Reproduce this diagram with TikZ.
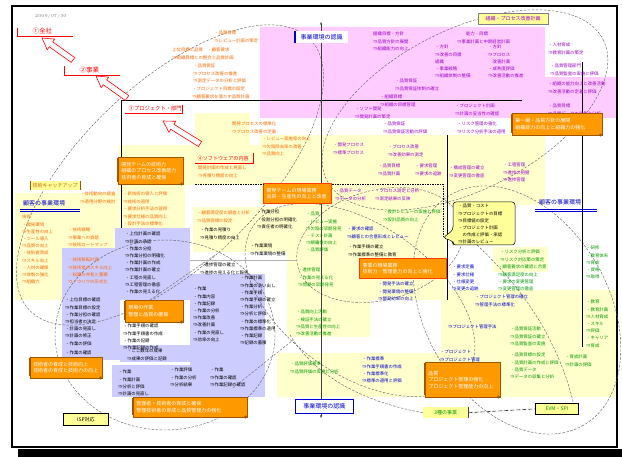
\documentclass[tikz,border=0pt]{standalone}
\usepackage{fontspec}
\newfontfamily\jp{Noto Sans CJK JP}
\usetikzlibrary{calc,arrows.meta}
\definecolor{pinkbg}{RGB}{255,204,255}
\definecolor{yelbg}{RGB}{255,255,204}
\definecolor{lavbg}{RGB}{204,204,255}
\definecolor{orgF}{RGB}{255,153,0}
\definecolor{orgD}{RGB}{160,85,0}
\definecolor{tOr}{RGB}{255,102,0}
\definecolor{tOd}{RGB}{204,102,0}
\definecolor{tPu}{RGB}{153,0,204}
\definecolor{tGr}{RGB}{0,153,0}
\definecolor{tBl}{RGB}{0,0,204}
\definecolor{labY}{RGB}{255,255,153}
\definecolor{dashG}{RGB}{100,100,100}
\definecolor{redB}{RGB}{255,60,0}
\tikzset{
  tb/.style={anchor=north west, inner sep=0pt, align=left, font=\jp\fontsize{4.4}{7.2}\selectfont},
  obox/.style={anchor=north west, fill=orgF, draw=orgD, line width=0.5pt, text=white, align=left, inner xsep=3pt, inner ysep=1pt, font=\jp\fontsize{5}{6.6}\selectfont},
  rbox/.style={obox, draw=redB, line width=1.4pt},
  dsh/.style={draw=dashG, dash pattern=on 2.5pt off 1.5pt, line width=0.45pt},
  redlab/.style={anchor=south west, inner sep=0.5pt, text=red, font=\jp\fontsize{6.5}{7}\selectfont},
  bluelab/.style={anchor=north west, inner sep=1pt, text=tBl, font=\jp\fontsize{6}{7}\selectfont},
  ylab/.style={anchor=north west, fill=labY, inner sep=1pt, font=\jp\fontsize{5}{6}\selectfont},
  harrow/.style={draw=red, fill=white, line width=0.6pt, line join=miter},
  frame/.style={draw=black, line width=0.7pt}
}
\newcommand\scrollends[1]{%
  \fill[orgD] ([xshift=-1.3pt,yshift=-1.5pt]#1.north west) rectangle ([xshift=1.3pt,yshift=2pt]#1.south west);
  \fill[orgD] ([xshift=-2pt,yshift=0.5pt]#1.south east) circle (1.7pt);}
\begin{document}
\begin{tikzpicture}[x=1pt,y=-1pt]
\fill[white] (0,0) rectangle (622,457);
\useasboundingbox (0,0) rectangle (622,457);
% ---------- backgrounds
\fill[pinkbg] (260,27) -- (545,27) -- (545,77) -- (618,77) -- (618,118) -- (260,118) -- cycle;
\fill[yelbg] (195,113) rectangle (250,145);
\fill[yelbg] (260,135) rectangle (545,205);
\fill[yelbg] (118,145) rectangle (185,228);
\fill[yelbg] (185,145) rectangle (262,185);
\fill[yelbg] (193,207) rectangle (290,252);
\fill[yelbg] (15,193) rectangle (118,300);
\fill[yelbg] (287,205) rectangle (447,300);
\fill[yelbg] (287,300) rectangle (370,337);
\fill[yelbg] (441,290) rectangle (618,397);
\fill[yelbg] (277,353) rectangle (441,397);
\fill[yelbg] (493,247) rectangle (548,272);
\fill[lavbg] (62,248) rectangle (120,360);
\fill[lavbg] (115,228) rectangle (190,300);
\fill[lavbg] (190,274) rectangle (265,397);
\fill[lavbg] (112,365) rectangle (265,397);
\fill[lavbg] (120,345) rectangle (190,362);
% ---------- outer frame
\draw[black, line width=1.3pt] (12,6) rectangle (617,447);
\fill[black] (18,449) rectangle (622,457);
% ---------- dashed ellipses and curves
\draw[dsh, rotate around={44:(170,175)}] (170,175) ellipse [x radius=195, y radius=90];
\draw[dsh, rotate around={27:(465,110)}] (465,110) ellipse [x radius=155, y radius=80];
\draw[dsh, rotate around={-60:(517,310)}] (517,310) ellipse [x radius=133, y radius=92];
\draw[dsh] (165,335) ellipse [x radius=110, y radius=95];
\draw[dsh, rotate around={-35:(360,300)}] (360,300) ellipse [x radius=130, y radius=75];
\draw[dsh, rotate around={15:(380,245)}] (380,245) ellipse [x radius=85, y radius=55];
\draw[dsh] (477,245) .. controls (520,285) and (560,340) .. (575,410);
\draw[dsh] (150,300) -- (215,255);
\draw[dsh] (233,388) -- (293,340);
% ---------- structural lines
\draw[frame] (121,228) -- (121,100) -- (522,100);
\draw[frame] (447,135) -- (447,300);
\draw[black, line width=1pt] (582,62) -- (582,347);
\draw[gray!60, line width=0.6pt] (190,260) -- (297,260);
\draw[gray!50!black, line width=0.8pt, {Stealth[length=3pt]}-{Stealth[length=3pt]}] (321,22) -- (321,418);
% ---------- date
\node[anchor=north west, inner sep=0pt, text=gray, font=\fontsize{4.6}{5}\selectfont] (date) at (35,14) {2009/07/30};
% ---------- red level labels
\node[redlab] (r1) at (32,35) {①全社};
\draw[red, line width=0.9pt] (17,28) -- (17,36) -- (73,36);
\node[redlab] (r2) at (79,74) {②事業};
\draw[red, line width=0.9pt] (64,66) -- (64,75) -- (120,75);
\node[redlab, font=\jp\fontsize{5.3}{6}\selectfont] (r3) at (128,112) {③プロジェクト・部門};
\draw[red, line width=0.9pt] (125,113) -- (182,113) -- (182,105);
\node[redlab, font=\jp\fontsize{5.1}{6}\selectfont] (r4) at (197,162) {④ソフトウェアの内容};
\draw[red, line width=0.9pt] (195,163) -- (253,163) -- (253,153);
% ---------- hollow arrows
\draw[harrow] (74.7,57.6) -- (52.7,41.9) -- (54.8,39.1) -- (42,38) -- (47.2,49.7) -- (49.3,46.8) -- (71.3,62.4) -- cycle;
\draw[harrow] (128.7,95.6) -- (106.7,79.9) -- (108.8,77.1) -- (96,76) -- (101.2,87.7) -- (103.3,84.8) -- (125.3,100.4) -- cycle;
\draw[harrow] (201.6,141.5) -- (173.9,124.3) -- (175.7,121.3) -- (163,121) -- (168.9,132.3) -- (170.7,129.3) -- (198.4,146.5) -- cycle;
% ---------- orange (top) texts
\node[tb, text=tOr] (o1) at (214,31) {・品質目標\\⇒レビュー計画の策定};
\node[tb, text=tOr] (o2) at (172,48) {上位目標と品質　・顧客要求\\⇒組織目標との整合と品質計画};
\node[tb, text=tOr] (o3) at (193,64) {・品質保証\\⇒プロセス改善の推進\\⇒測定データの分析と評価};
\node[tb, text=tOr] (o4) at (192,87) {・プロジェクト目標の設定\\⇒顧客要求を満たす品質計画};
\node[tb, text=tOr] (o5) at (232,122) {開発プロセスの標準化\\⇒プロセス改善の定着};
\node[tb, text=tOr] (o6) at (262,137) {・レビュー実施率の向上\\⇒欠陥除去率の改善\\⇒品質向上};
\node[tb, text=tOr] (o7) at (198,166) {開発計画の作成と見直し\\⇒見積り精度の向上};
\node[tb, text=tOr] (o9) at (80,192) {・技術動向の調査\\⇒適用分野の検討};
\node[tb, text=tOr] (o9b) at (123,192) {・新技術の導入と評価\\⇒技術の適用};
\node[tb, text=tOr] (o10) at (123,207) {・要求分析手法の習得\\⇒要求仕様の品質向上\\・設計手法の標準化};
\node[tb, text=tOr] (o11) at (22,215) {技術\\・開発環境\\⇒生産性の向上\\・ツール導入\\⇒品質の向上\\・技術者育成\\⇒スキル向上\\・人材の確保\\⇒体制の強化\\⇒組織力};
\node[tb, text=tOr] (o12) at (68,228) {・技術戦略\\⇒事業への貢献\\⇒技術ロードマップ};
\node[tb, text=tOr] (o13) at (68,258) {・技術移転計画\\⇒技術者のスキル向上\\・知識の共有と蓄積\\⇒ノウハウの形式化};
\node[tb, text=tOr] (o14) at (197,211) {・顧客満足度の調査と分析\\⇒品質目標の設定};
% ---------- purple texts (pink area)
\node[tb, text=tPu] (p1) at (373,32) {組織目標・方針\\⇒品質方針の展開\\⇒組織能力の向上};
\node[tb, text=tPu] (p2) at (457,32) {　　能力・目標\\⇒事業計画と中期経営計画};
\node[tb, text=tPu] (p3) at (435,45) {・方針\\⇒改善の目標\\組織\\・事業戦略\\⇒組織体制の整備};
\node[tb, text=tPu] (p4) at (488,45) {・方針\\⇒プロセス\\　改善計画\\・成熟度評価\\⇒改善活動の推進};
\node[tb, text=tPu] (p5) at (395,79) {・品質保証\\⇒品質保証体制の確立};
\node[tb, text=tPu] (p6) at (380,95) {・組織目標\\⇒組織の目標管理};
\node[tb, text=tPu] (p7) at (355,107) {・ソフト開発\\⇒開発計画の策定};
\node[tb, text=tPu] (p8) at (455,104) {・プロジェクト計画\\⇒計画の妥当性の確認};
\node[tb, text=tPu] (p9) at (548,43) {・人材育成\\⇒教育計画の策定};
\node[tb, text=tPu] (p10) at (550,64) {・品質管理部門\\⇒品質監査の実施と評価};
\node[tb, text=tPu] (p11) at (548,82) {・組織の能力向上と改善活動\\⇒改善活動の定着と評価};
\node[tb, text=tPu] (p12) at (548,104) {・品質目標\\⇒品質データの収集と分析};
\node[tb, text=tPu] (p13) at (383,122) {・品質保証\\⇒品質保証活動の評価};
\node[tb, text=tPu] (p14) at (457,122) {・リスク管理の強化\\⇒リスク分析手法の適用};
\node[tb, text=tPu] (p15) at (333,143) {・開発プロセス\\⇒標準プロセス};
\node[tb, text=tPu] (p16) at (388,145) {・プロセス改善\\⇒改善効果の測定};
\node[tb, text=tPu] (p17) at (378,164) {・品質目標\\⇒品質計画};
\node[tb, text=tPu] (p18) at (415,164) {・要求管理\\⇒要求の追跡};
\node[tb, text=tPu] (p19) at (449,166) {・構成管理の確立\\⇒変更管理の徹底};
\node[tb, text=tPu] (p20) at (503,163) {・工程管理\\⇒進捗の把握\\⇒進捗管理};
\node[tb, text=tPu] (p21) at (335,189) {・品質データ\\⇒データの分析};
\node[tb, text=tPu] (p22) at (375,189) {・プロセス測定と分析\\⇒測定結果の反映};
% ---------- green / blue / black texts
\node[tb, text=tGr] (g1) at (306,212) {・品質\\・レビュー実施\\⇒欠陥の早期発見\\・テスト計画\\⇒網羅性の向上\\・品質評価};
\node[tb, text=tGr] (g2) at (383,210) {・設計レビューの実施と評価\\⇒設計品質の向上};
\node[tb, text=tBl] (b1) at (347,227) {・要求の確認\\⇒顧客との合意形成とレビュー};
\node[tb] (k1) at (348,245) {・作業手順の確立\\⇒作業標準の整備と教育};
\node[tb, text=tGr] (g4) at (298,268) {・進捗管理\\・作業の見える化\\⇒問題の早期発見};
\node[tb, text=tGr] (g5) at (296,310) {・品質向上活動\\・検証手法の確立\\⇒品質と生産性の向上\\⇒改善活動の推進};
\node[tb, text=tBl] (b2) at (378,282) {・開発手法の確立\\・開発環境の整備\\⇒開発効率の向上};
\node[tb, text=tGr] (g6) at (290,362) {・品質評価基準\\⇒品質評価の実施と分析};
\node[tb, text=tBl] (b3) at (362,357) {・作業標準\\⇒作業手順書の作成\\・作業標準化\\⇒標準の適用と評価};
\node[tb, text=tBl] (b4) at (440,350) {・プロジェクト\\⇒プロジェクト管理\\⇒管理手法の確立};
\node[tb, text=tGr] (g7) at (500,250) {・リスク分析と評価\\⇒リスク対応策の策定};
\node[tb, text=tBl] (b5) at (452,265) {・要求定義\\・要求仕様\\・仕様変更\\⇒変更の追跡};
\node[tb, text=tGr] (g8) at (498,265) {・顧客要求の確認と合意\\⇒顧客満足度の向上\\・要求の変更管理\\⇒変更管理の徹底};
\node[tb, text=tBl] (b6) at (475,295) {・プロジェクト管理の確立\\⇒管理手法の標準化};
\node[tb, text=tBl] (b7) at (448,325) {⇒プロジェクト管理手法};
\node[tb, text=tGr] (g9) at (510,327) {・品質保証活動\\⇒品質保証の確立\\⇒品質監査の実施};
\node[tb, text=tGr] (g10) at (510,353) {・品質目標の設定\\・品質計画の作成と評価\\・品質データ\\⇒データの収集と分析};
\node[tb, text=tGr] (g11) at (586,300) {・教育\\・教育計画\\⇒人材育成\\・スキル\\⇒評価\\・キャリア\\⇒育成};
\node[tb, text=tGr] (g12) at (565,355) {・育成計画\\⇒計画の評価};
\node[tb, text=tGr] (g13) at (586,246) {・研修\\・教育体系\\⇒育成\\・資格\\⇒取得};
% ---------- black texts
\node[tb] (k2) at (125,232) {・上位計画の確認\\⇒計画の承認\\・作業の分担\\⇒作業分担の明確化\\・作業計画の作成\\⇒作業計画の確立\\・工程の見直し\\⇒工程管理の徹底\\・作業の見える化};
\node[tb] (k3) at (200,228) {・作業の見積り\\⇒見積り精度の向上};
\node[tb] (k4) at (257,210) {・作業分担\\・役割分担の明確化\\⇒責任者の明確化};
\node[tb] (k5) at (250,244) {・作業環境\\⇒作業環境の整備};
\node[tb] (k6) at (200,263) {・進捗管理の確立\\⇒進捗の見える化と報告};
\node[tb] (k7) at (240,276) {・作業計画\\⇒作業の洗い出し\\・作業手順\\⇒作業手順の確立\\・作業分析\\⇒分析と評価\\・作業の標準化\\⇒作業標準の適用\\・作業記録\\⇒記録の蓄積};
\node[tb] (k8) at (193,287) {・作業\\・作業内容\\・作業記録\\・作業の分析\\⇒作業改善\\⇒改善計画\\・作業の見直し\\⇒効率の向上};
\node[tb] (k9) at (65,298) {・上位目標の確認\\⇒作業目標の設定\\・作業分担の確認\\⇒担当者の決定\\・計画の見直し\\⇒計画の修正\\・作業の評価};
\node[tb] (k10) at (123,324) {・作業手順の確認\\⇒作業手順書の作成\\・作業の記録\\⇒作業記録の作成};
\node[tb] (k11) at (127,349) {・ここ数年の成果\\⇒成果の評価と記録};
\node[tb] (k15) at (65,351) {・作業の確認};
\node[tb] (k12) at (118,370) {・作業\\・作業計画\\⇒分析と評価\\⇒計画の見直し};
\node[tb] (k13) at (170,368) {・作業評価\\・作業の分析\\⇒分析結果};
\node[tb] (k14) at (210,368) {・作業\\⇒作業の確認\\⇒作業記録の確認};
% ---------- orange scroll boxes
\node[obox, text width=59pt, minimum height=27pt] (ob1) at (118,157) {開発チームの技術力\\組織のプロセス改善能力\\技術者の育成と確保};
\scrollends{ob1}
\node[rbox, text width=62pt, minimum height=20pt] (ob2) at (263,183) {開発チームの現場業務\\品質・生産性の向上と改善};
\node[rbox, text width=81pt, minimum height=20pt] (ob3) at (359,258) {事業の現場業務\\技術力・管理能力の向上と強化};
\node[obox, text width=84pt, minimum height=22pt] (ob4) at (512,113) {第一線・品質方針の展開\\組織能力の向上と組織力の強化};
\scrollends{ob4}
\node[obox, text width=52pt, minimum height=22pt] (ob5) at (125,300) {現場の作業\\管理と品質の確保};
\scrollends{ob5}
\node[obox, text width=66pt, minimum height=21pt] (ob6) at (30,357) {技術者の育成と技術向上\\技術者の育成と技術力の向上};
\scrollends{ob6}
\node[obox, text width=108pt, minimum height=20pt] (ob7) at (133,397) {管理者・技術者の育成と確保\\管理技術者の育成と品質管理力の強化};
\scrollends{ob7}
\node[obox, text width=69pt, minimum height=35pt] (ob8) at (425,362) {品質\\プロジェクト管理の強化\\プロジェクト管理能力の向上};
\scrollends{ob8}
% ---------- callout
\path[draw=black, fill=labY, line width=0.5pt, rounded corners=3pt] (453,202) -- (515,202) -- (515,245) -- (453,245) -- (453,241) -- (443,238) -- (453,230) -- cycle;
\coordinate (cp) at (443,238);
\node[tb] (ct) at (458,204) {・品質・コスト\\⇒プロジェクトの目標\\⇒目標値の設定\\・プロジェクト計画\\　の作成と評価・承認\\⇒計画のレビュー};
% ---------- dashed connector to callout
\coordinate (dk1) at (195,184);
\coordinate (dk2) at (443,184);
\draw[black, dash pattern=on 1.5pt off 1pt, line width=0.6pt] (dk1) -- (dk1 -| ob2.west);
\draw[black, dash pattern=on 1.5pt off 1pt, line width=0.6pt] (dk1 -| ob2.east) -- (dk2) -- (cp);
% ---------- small yellow labels
\node[ylab, text=tOd, minimum width=50pt, minimum height=9pt] (l1) at (30,181) {技術キャッチアップ};
\draw[orgD, line width=1pt] (l1.north west) -- (l1.south west) (l1.north east) -- (l1.south east);
\node[ylab, text=tPu, draw=gray, minimum width=70pt, minimum height=11pt] (l2) at (478,13) {組織・プロセス改善計画};
\node[ylab, text=tGr, minimum width=45pt, minimum height=11pt] (l3) at (423,407) {3種の事業};
\draw[gray!50!black, line width=1.2pt] (l3.north east) -- (l3.south east);
\node[ylab, text=tGr, draw=black, line width=0.8pt, minimum width=43pt, minimum height=11pt] (l4) at (535,403) {EVM・SPI};
\node[ylab, text=black, draw=black, line width=0.8pt, minimum width=45pt, minimum height=12pt] (l5) at (63,413) {ISP対応};
\draw[dsh] (290,335) .. controls (320,385) and (380,405) .. (l3.west);
\draw[gray!40!black, dash pattern=on 4pt off 2pt, line width=0.6pt] (l3.east) -- (l4.west);
% ---------- blue labels
\node[bluelab, fill=white, minimum width=53pt, minimum height=12pt] (bl1) at (295,31) {事業環境の認識};
\draw[tBl, line width=1.2pt] (bl1.north west) -- (bl1.south west);
\node[bluelab] (bl2) at (22,199) {顧客の事業環境};
\draw[tBl, line width=0.5pt] (20,209.5) -- (80,209.5) (20,211.5) -- (80,211.5);
\node[bluelab] (bl3) at (538,198) {顧客の事業環境};
\draw[tBl, line width=0.5pt] (535,209.5) -- (597,209.5) (535,211.5) -- (597,211.5);
\node[bluelab, fill=white, draw=tBl, line width=0.8pt, minimum width=58pt, minimum height=14pt] (bl4) at (295,399) {事業環境の認識};
\end{tikzpicture}
\end{document}
